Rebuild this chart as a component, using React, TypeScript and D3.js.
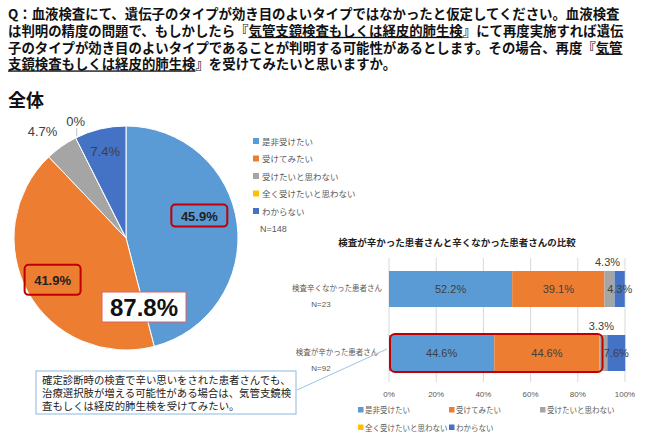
import React from "react";
import * as d3 from "d3";

const answers = ["是非受けたい", "受けてみたい", "受けたいと思わない", "全く受けたいと思わない", "わからない"];
const colors = ["#5b9bd5", "#ed7d31", "#a5a5a5", "#ffc000", "#4472c4"];
const pieValues = [45.9, 41.9, 4.7, 0, 7.4];
const pieN = "N=148";
const barCategories = ["検査辛くなかった患者さん", "検査が辛かった患者さん"];
const barN = ["N=23", "N=92"];
const barEasy = [52.2, 39.1, 4.3, 0, 4.3];
const barHard = [44.6, 44.6, 3.3, 0, 7.6];
const xTicks = [0, 20, 40, 60, 80, 100];

const titleLines: [string, boolean][][] = [
  [["Q：血液検査にて、遺伝子のタイプが効き目のよいタイプではなかったと仮定してください。血液検査", false]],
  [["は判明の精度の問題で、もしかしたら『", false], ["気管支鏡検査もしくは経皮的肺生検", true], ["』にて再度実施すれば遺伝", false]],
  [["子のタイプが効き目のよいタイプであることが判明する可能性があるとします。その場合、再度『", false], ["気管", true]],
  [["支鏡検査もしくは経皮的肺生検", true], ["』を受けてみたいと思いますか。", false]],
];
const noteLines = [
  "確定診断時の検査で辛い思いをされた患者さんでも、",
  "治療選択肢が増える可能性がある場合は、気管支鏡検",
  "査もしくは経皮的肺生検を受けてみたい。",
];

const JP = "'Noto Sans CJK JP', sans-serif";
const NUM = "'Liberation Sans', Arial, 'Noto Sans CJK JP', sans-serif";

export default function App() {
  // pie
  const cx = 126, cy = 238, r = 112;
  const pie = d3.pie<number>().sort(null).value((d) => d)(pieValues);
  const arc = d3.arc<d3.PieArcDatum<number>>().innerRadius(0).outerRadius(r);
  const at = (a: number, rr: number) => [cx + Math.sin(a) * rr, cy - Math.cos(a) * rr];
  const mid = (d: d3.PieArcDatum<number>) => (d.startAngle + d.endAngle) / 2;

  const p0 = at(mid(pie[0]), r * 0.66);
  const p1 = at(mid(pie[1]), r * 0.75);
  const p2 = at(mid(pie[2]), r * 1.17);
  const p3 = at(mid(pie[3]), r);
  const p4 = at(mid(pie[4]), r * 0.8);

  // bars
  const x = d3.scaleLinear().domain([0, 100]).range([389, 625]);
  const y = d3.scaleBand().domain(barCategories).range([255, 387]).paddingInner(0.4375).paddingOuter(0.25);
  const rows = [barEasy, barHard].map((vals, i) => {
    const segs: { x0: number; x1: number; v: number }[] = [];
    let acc = 0;
    vals.forEach((v) => {
      segs.push({ x0: acc, x1: acc + v, v });
      acc += v;
    });
    return { cat: barCategories[i], segs };
  });

  return (
    <svg width={650} height={439} style={{ position: "absolute", left: 0, top: 0, background: "#fff" }}>
      {titleLines.map((line, i) => (
        <text key={i} x={8} y={19 + i * 16.8} fontFamily={JP} fontWeight="bold" fontSize={13.4} fill="#111">
          {line.map(([t, u], j) => (
            <tspan key={j} style={{ textDecoration: u ? "underline" : "none" }}>{t}</tspan>
          ))}
        </text>
      ))}
      <text x={8} y={107} fontFamily={JP} fontWeight="bold" fontSize={18} fill="#111">全体</text>

      {pie.map((d, i) => (
        <path key={i} d={arc(d) || ""} transform={`translate(${cx},${cy})`} fill={colors[i]} stroke="#fff" strokeWidth={1} />
      ))}

      <rect x={p0[0] - 28} y={p0[1] - 24} width={56} height={22} rx={4} fill="none" stroke="#c00000" strokeWidth={2} />
      <text x={p0[0]} y={p0[1] - 8} textAnchor="middle" fontFamily={NUM} fontWeight="bold" fontSize={13} fill="#222">{pieValues[0]}%</text>
      <rect x={p1[0] - 28} y={p1[1] - 14} width={56} height={30} rx={4} fill="none" stroke="#c00000" strokeWidth={2} />
      <text x={p1[0]} y={p1[1] + 6} textAnchor="middle" fontFamily={NUM} fontWeight="bold" fontSize={13} fill="#222">{pieValues[1]}%</text>
      <text x={p2[0] - 8} y={p2[1] + 5} textAnchor="middle" fontFamily={NUM} fontSize={13} fill="#404040">{pieValues[2]}%</text>
      <line x1={p3[0] + 1} y1={p3[1] - 2} x2={p3[0] + 1} y2={p3[1] - 10} stroke="#bfbfbf" />
      <text x={p3[0]} y={p3[1] - 12} textAnchor="middle" fontFamily={NUM} fontSize={13} fill="#404040">{pieValues[3]}%</text>
      <text x={p4[0]} y={p4[1] + 5} textAnchor="middle" fontFamily={NUM} fontSize={13} fill="#404040">{pieValues[4]}%</text>

      <rect x={102} y={292} width={84} height={30} fill="#fff" stroke="#e06060" strokeWidth={1} />
      <text x={144} y={316} textAnchor="middle" fontFamily={NUM} fontWeight="bold" fontSize={24} fill="#111">
        {d3.format(".1f")(pieValues[0] + pieValues[1])}%
      </text>

      {answers.map((a, i) => (
        <g key={a} transform={`translate(256,${141 + i * 17.5})`}>
          <rect x={-3} y={-3} width={6} height={6} fill={colors[i]} />
          <text x={6} y={3.5} fontFamily={JP} fontSize={8.5} fill="#595959">{a}</text>
        </g>
      ))}
      <text x={260} y={232} fontFamily={NUM} fontSize={9} fill="#595959">{pieN}</text>

      <text x={457} y={246} textAnchor="middle" fontFamily={JP} fontWeight="bold" fontSize={9.5} fill="#222">
        検査が辛かった患者さんと辛くなかった患者さんの比較
      </text>
      {xTicks.map((t) => (
        <g key={t}>
          <line x1={x(t)} x2={x(t)} y1={258} y2={382} stroke="#d9d9d9" />
          <text x={x(t)} y={397} textAnchor="middle" fontFamily={NUM} fontSize={8} fill="#595959">{t}%</text>
        </g>
      ))}
      {rows.map((row, i) => {
        const y0 = y(row.cat)!;
        const h = y.bandwidth();
        return (
          <g key={row.cat}>
            {row.segs.map((s, j) => (
              <rect key={j} x={x(s.x0)} y={y0} width={x(s.x1) - x(s.x0)} height={h} fill={colors[j]} />
            ))}
            {row.segs.map((s, j) => {
              if (s.v === 0) return null;
              const cxs = (x(s.x0) + x(s.x1)) / 2;
              const above = j === 2;
              return (
                <text key={"l" + j} x={above ? cxs - 2 : cxs} y={above ? y0 - 5 : y0 + h / 2 + 4}
                  textAnchor="middle" fontFamily={NUM} fontSize={11} fill="#404040">{s.v}%</text>
              );
            })}
            <text x={337} y={y0 + h / 2 + 2} textAnchor="middle" fontFamily={JP} fontSize={7.5} fill="#595959">{row.cat}</text>
            <text x={321} y={y0 + h / 2 + 18} textAnchor="middle" fontFamily={NUM} fontSize={8} fill="#595959">{barN[i]}</text>
          </g>
        );
      })}
      <rect x={x(0) + 1} y={y(barCategories[1])! - 1} width={x(barHard[0] + barHard[1]) - x(0) + 2}
        height={y.bandwidth() + 2} rx={5} fill="none" stroke="#c00000" strokeWidth={2} />

      {answers.map((a, i) => {
        const col = i < 3 ? i : i - 3;
        const row = i < 3 ? 0 : 1;
        return (
          <g key={"bl" + a} transform={`translate(${361 + col * 91},${410 + row * 17.5})`}>
            <rect x={-3} y={-3} width={5.5} height={5.5} fill={colors[i]} />
            <text x={4} y={3} fontFamily={JP} fontSize={7.5} fill="#595959">{a}</text>
          </g>
        );
      })}

      <line x1={297} y1={390} x2={387} y2={349} stroke="#9dc3e6" strokeWidth={1} />
      <rect x={36} y={371} width={260} height={43} fill="#fff" stroke="#9dc3e6" strokeWidth={1.2} />
      {noteLines.map((l, i) => (
        <text key={i} x={42} y={384 + i * 13} fontFamily={JP} fontSize={10.4} fill="#222">{l}</text>
      ))}
    </svg>
  );
}
